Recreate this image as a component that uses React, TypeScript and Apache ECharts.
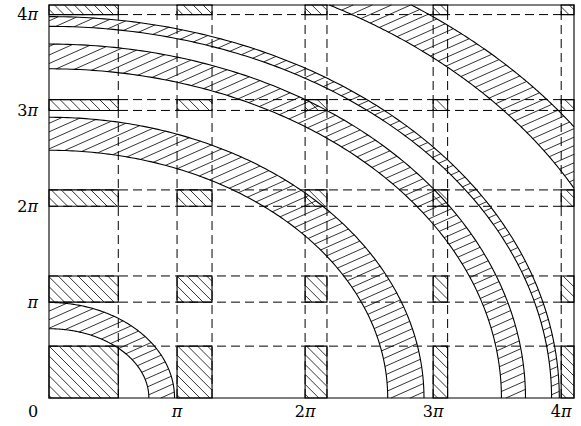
import { useEffect, useRef } from "react";
import * as echarts from "echarts";

const PI = Math.PI;
const AXIS_MIN = 0;
const AXIS_MAX = 4.1 * PI;
const TICK_STEP = PI;
const tickLabels = ["0", "π", "2π", "3π", "4π"];

// hatched strips, identical on both axes: [start, end]
const stripStart = [0, PI, 2 * PI, 3 * PI, 4 * PI];
const stripEnd = [1.7, 4.0, 6.82, 9.78, 13.3];

// quarter-elliptic bands centred on the origin (semi-axes in data units)
const bandInnerX = [2.45, 8.31, 11.1, 12.33, 14.6];
const bandInnerY = [2.27, 8.12, 10.79, 12.18, 14.6];
const bandOuterX = [3.08, 9.2, 11.69, 12.52, 15.65];
const bandOuterY = [3.13, 9.2, 11.6, 12.5, 15.65];

const dashedAt = stripStart
  .concat(stripEnd)
  .filter((v) => v > 0 && v < AXIS_MAX)
  .sort((a, b) => a - b);

type Box = { x0: number; y0: number; x1: number; y1: number };
type Ell = { ox: number; oy: number; rx: number; ry: number };

function ellRange(px: number, py: number, dx: number, dy: number, e: Ell): [number, number] | null {
  const X = px - e.ox;
  const Y = py - e.oy;
  const a2 = e.rx * e.rx;
  const b2 = e.ry * e.ry;
  const A = (dx * dx) / a2 + (dy * dy) / b2;
  const B = 2 * ((X * dx) / a2 + (Y * dy) / b2);
  const C = (X * X) / a2 + (Y * Y) / b2 - 1;
  const D = B * B - 4 * A * C;
  if (D <= 0) return null;
  const s = Math.sqrt(D);
  return [(-B - s) / (2 * A), (-B + s) / (2 * A)];
}

function hatch(box: Box, angleDeg: number, spacing: number, outer?: Ell, inner?: Ell): number[][] {
  const th = (angleDeg * PI) / 180;
  const dx = Math.cos(th);
  const dy = -Math.sin(th);
  const nx = -dy;
  const ny = dx;
  const cs = [
    [box.x0, box.y0],
    [box.x1, box.y0],
    [box.x0, box.y1],
    [box.x1, box.y1],
  ].map(([x, y]) => nx * x + ny * y);
  const cmin = Math.min(...cs);
  const cmax = Math.max(...cs);
  const segs: number[][] = [];
  for (let k = Math.ceil(cmin / spacing); k * spacing <= cmax; k++) {
    const c = k * spacing;
    const px = nx * c;
    const py = ny * c;
    let t0 = -1e9;
    let t1 = 1e9;
    const clip = (p: number, d: number, lo: number, hi: number) => {
      if (Math.abs(d) < 1e-9) {
        if (p < lo || p > hi) {
          t0 = 1;
          t1 = 0;
        }
        return;
      }
      let a = (lo - p) / d;
      let b = (hi - p) / d;
      if (a > b) {
        const tmp = a;
        a = b;
        b = tmp;
      }
      t0 = Math.max(t0, a);
      t1 = Math.min(t1, b);
    };
    clip(px, dx, box.x0, box.x1);
    clip(py, dy, box.y0, box.y1);
    if (t0 >= t1) continue;
    if (outer) {
      const r = ellRange(px, py, dx, dy, outer);
      if (!r) continue;
      t0 = Math.max(t0, r[0]);
      t1 = Math.min(t1, r[1]);
      if (t0 >= t1) continue;
    }
    let parts: number[][] = [[t0, t1]];
    if (inner) {
      const r = ellRange(px, py, dx, dy, inner);
      if (r) {
        parts = [];
        if (r[0] > t0) parts.push([t0, Math.min(t1, r[0])]);
        if (r[1] < t1) parts.push([Math.max(t0, r[1]), t1]);
      }
    }
    for (const [a, b] of parts) {
      if (b - a > 0.3) segs.push([px + a * dx, py + a * dy, px + b * dx, py + b * dy]);
    }
  }
  return segs;
}

const hatchStyle = { stroke: "#000", lineWidth: 0.8 };
const edgeStyle = { fill: "none", stroke: "#000", lineWidth: 1.1 };

function segEls(segs: number[][]) {
  return segs.map((s) => ({
    type: "line",
    shape: { x1: s[0], y1: s[1], x2: s[2], y2: s[3] },
    style: hatchStyle,
  }));
}

function labelFor(v: number, isX: boolean): string {
  const k = Math.round(v / TICK_STEP);
  if (Math.abs(v - k * TICK_STEP) > 1e-6 || k < 0 || k >= tickLabels.length) return "";
  const t = tickLabels[k];
  if (k === 0) return isX ? "{z|" + t + "}" : "";
  const num = t.replace("π", "");
  return (num ? "{n|" + num + "}" : "") + "{p|π}";
}

const labelFont = "DejaVu Serif";
const richStyles = {
  n: { fontFamily: labelFont, fontSize: 16, color: "#000" },
  p: { fontFamily: labelFont, fontSize: 16, fontStyle: "italic", color: "#000" },
  z: { fontFamily: labelFont, fontSize: 16, color: "#000", padding: [0, 32, 0, 0] },
};

export default function App() {
  const ref = useRef<HTMLDivElement>(null);
  useEffect(() => {
    if (!ref.current) return;
    const chart = echarts.init(ref.current, null, { renderer: "svg" });
    const axisCommon = {
      type: "value",
      min: AXIS_MIN,
      max: AXIS_MAX,
      interval: TICK_STEP,
      axisLine: { show: false },
      axisTick: { show: false },
      splitLine: { show: false },
    };
    chart.setOption({
      animation: false,
      backgroundColor: "#fff",
      grid: {
        left: 49,
        right: 7,
        top: 5,
        bottom: 28,
        show: true,
        borderColor: "#000",
        borderWidth: 1.1,
        backgroundColor: "transparent",
      },
      xAxis: {
        ...axisCommon,
        axisLabel: {
          margin: 5,
          showMaxLabel: false,
          formatter: (v: number) => labelFor(v, true),
          rich: richStyles,
        },
      },
      yAxis: {
        ...axisCommon,
        axisLabel: {
          margin: 11,
          showMaxLabel: false,
          formatter: (v: number) => labelFor(v, false),
          rich: richStyles,
        },
      },
      series: [
        {
          type: "custom",
          name: "guides",
          silent: true,
          z: 1,
          data: dashedAt.map((v) => [v, v]),
          renderItem: (params: any, api: any) => {
            const v = api.value(0);
            const cs = params.coordSys;
            const x = api.coord([v, 0])[0];
            const y = api.coord([0, v])[1];
            const dash = { stroke: "#000", lineWidth: 1, lineDash: [9, 5] };
            return {
              type: "group",
              children: [
                { type: "line", shape: { x1: x, y1: cs.y + cs.height, x2: x, y2: cs.y }, style: dash },
                { type: "line", shape: { x1: cs.x, y1: y, x2: cs.x + cs.width, y2: y }, style: dash },
              ],
            };
          },
        },
        {
          type: "custom",
          name: "strips",
          silent: true,
          z: 2,
          data: stripStart.flatMap((_, i) => stripStart.map((__, j) => [i, j])),
          renderItem: (params: any, api: any) => {
            const i = api.value(0);
            const j = api.value(1);
            const p0 = api.coord([stripStart[i], stripStart[j]]);
            const p1 = api.coord([Math.min(stripEnd[i], AXIS_MAX), Math.min(stripEnd[j], AXIS_MAX)]);
            const box = { x0: p0[0], x1: p1[0], y0: p1[1], y1: p0[1] };
            return {
              type: "group",
              children: [
                ...segEls(hatch(box, -45, 7)),
                {
                  type: "rect",
                  shape: { x: box.x0, y: box.y0, width: box.x1 - box.x0, height: box.y1 - box.y0 },
                  style: edgeStyle,
                },
              ],
            };
          },
        },
        {
          type: "custom",
          name: "bands",
          silent: true,
          z: 3,
          data: bandInnerX.map((_, k) => [k, 0]),
          renderItem: (params: any, api: any) => {
            const k = api.value(0);
            const cs = params.coordSys;
            const o = api.coord([0, 0]);
            const box = { x0: cs.x, y0: cs.y, x1: cs.x + cs.width, y1: cs.y + cs.height };
            const mk = (rx: number, ry: number): Ell => ({
              ox: o[0],
              oy: o[1],
              rx: api.coord([rx, 0])[0] - o[0],
              ry: o[1] - api.coord([0, ry])[1],
            });
            const arc = (rx: number, ry: number) => {
              const f0 = rx > AXIS_MAX ? Math.acos(AXIS_MAX / rx) : 0;
              const f1 = ry > AXIS_MAX ? Math.asin(AXIS_MAX / ry) : PI / 2;
              const pts: number[][] = [];
              const N = 160;
              for (let s = 0; s <= N; s++) {
                const f = f0 + ((f1 - f0) * s) / N;
                pts.push(api.coord([rx * Math.cos(f), ry * Math.sin(f)]));
              }
              return { type: "polyline", shape: { points: pts }, style: edgeStyle };
            };
            const outer = mk(bandOuterX[k], bandOuterY[k]);
            const inner = mk(bandInnerX[k], bandInnerY[k]);
            return {
              type: "group",
              children: [
                ...segEls(hatch(box, 24, 7.8, outer, inner)),
                arc(bandInnerX[k], bandInnerY[k]),
                arc(bandOuterX[k], bandOuterY[k]),
              ],
            };
          },
        },
      ],
    });
    return () => chart.dispose();
  }, []);
  return <div ref={ref} style={{ position: "fixed", left: 0, top: 0, width: 581, height: 426 }} />;
}
